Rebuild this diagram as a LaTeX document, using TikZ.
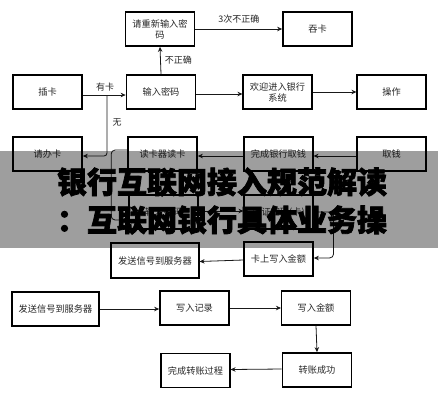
\documentclass[tikz,border=0pt]{standalone}
\usepackage{fontspec}
\setmainfont{Noto Sans CJK SC}
\newfontfamily\cjkheavy{Noto Sans CJK SC}[FakeBold=2.5]
\usetikzlibrary{arrows.meta}
\tikzset{
  box/.style={draw=black, line width=1.1pt, minimum width=69pt, minimum height=34pt, inner sep=1pt, align=center, font=\fontsize{9.2}{11}\selectfont, text=black!85},
  thickbox/.style={box, line width=1.7pt},
  arr/.style={-{Stealth[length=5pt,width=4.5pt]}, line width=0.8pt, black!90},
  lbl/.style={font=\fontsize{9}{11}\selectfont, text=black!85, inner sep=0pt},
  bannertext/.style={font=\cjkheavy\bfseries\fontsize{30}{32}\selectfont, text=black, inner sep=0pt}
}
\begin{document}
\begin{tikzpicture}[x=1pt,y=-1pt]
\useasboundingbox (0,0) rectangle (438,400);
\fill[white] (0,0) rectangle (438,400);
% row 1
\node[thickbox] (chong) at (160,29) {请重新输入密\\码};
\node[thickbox] (tun) at (317.5,29) {吞卡};
% row 2
\node[thickbox] (chaka) at (47.5,92) {插卡};
\node[thickbox] (shuru) at (161,92) {输入密码};
\node[box] (huan) at (277.5,92) {欢迎进入银行\\系统};
\node[box] (cao) at (391.5,92) {操作};
% row 3
\node[thickbox] (banka) at (47.5,154) {请办卡};
\node[thickbox] (duka) at (162.5,154) {读卡器读卡};
\node[box] (wanq) at (278.5,154) {完成银行取钱};
\node[box] (qu) at (391.5,154) {取钱};
% row 4
\node[box] (rl) at (163.5,212) {输入密码};
\node[box] (rr) at (278.5,212) {验证密码(卡)};
% row 5
\node[box, minimum width=88pt, minimum height=35pt] (fa1) at (155,260.5) {发送信号到服务器};
\node[thickbox] (kash) at (278.5,259) {卡上写入金额};
% row 6
\node[thickbox, minimum width=87pt] (fa2) at (55.5,309) {发送信号到服务器};
\node[thickbox] (jilu) at (194.5,308) {写入记录};
\node[box] (jine) at (316,308) {写入金额};
\node[thickbox] (zhcg) at (317,370) {转账成功};
\node[box] (wanz) at (195.5,370.5) {完成转账过程};
% connectors
\draw[arr] (chong.east) -- node[lbl, above=5pt] {3次不正确} (tun.west);
\draw[arr] (shuru.north) -- node[lbl, right=4pt] {不正确} (chong.south);
\draw[arr] ([yshift=-3pt]chaka.east) -- ([yshift=-3pt]shuru.west);
\node[lbl] (youka) at (105,87) {有卡};
\coordinate (br) at (107,95);
\draw[arr, rounded corners=3pt] (br) |- ([yshift=-2pt]banka.east);
\node[lbl] (wu) at (117,122) {无};
\draw[arr] ([yshift=-2pt]shuru.east) -- ([yshift=-2pt]huan.west);
\draw[arr] (huan.east) -- (cao.west);
\draw[arr] ([yshift=-2pt]qu.west) -- ([yshift=-2pt]wanq.east);
\draw[arr] ([yshift=-2pt]wanq.west) -- ([yshift=-2pt]duka.east);
\draw[arr, rounded corners=4pt] ([yshift=4pt]duka.west) -- ++(-16,0) |- ([yshift=-8pt]rl.west);
\draw[arr] ([yshift=1pt]rl.east) -- ([yshift=1pt]rr.west);
\draw[arr, rounded corners=4pt] (rr.east) -- ++(20,0) |- ([yshift=1pt]kash.east);
\draw[arr] ([yshift=-1pt]kash.west) -- ([yshift=-1pt]fa1.east);
\draw[arr] (fa2.east) -- ([yshift=-1pt]jilu.west);
\draw[arr] (jilu.east) -- (jine.west);
\draw[arr] (jine.south) -- (zhcg.north);
\draw[arr] ([yshift=1pt]zhcg.west) -- ([yshift=1pt]wanz.east);
% banner
\fill[black, fill opacity=0.38] (0,151) rectangle (438,248);
\node[bannertext] (b1) at (222,182) {银行互联网接入规范解读};
\node[bannertext] (b2) at (222,220) {：互联网银行具体业务操};
\end{tikzpicture}
\end{document}
